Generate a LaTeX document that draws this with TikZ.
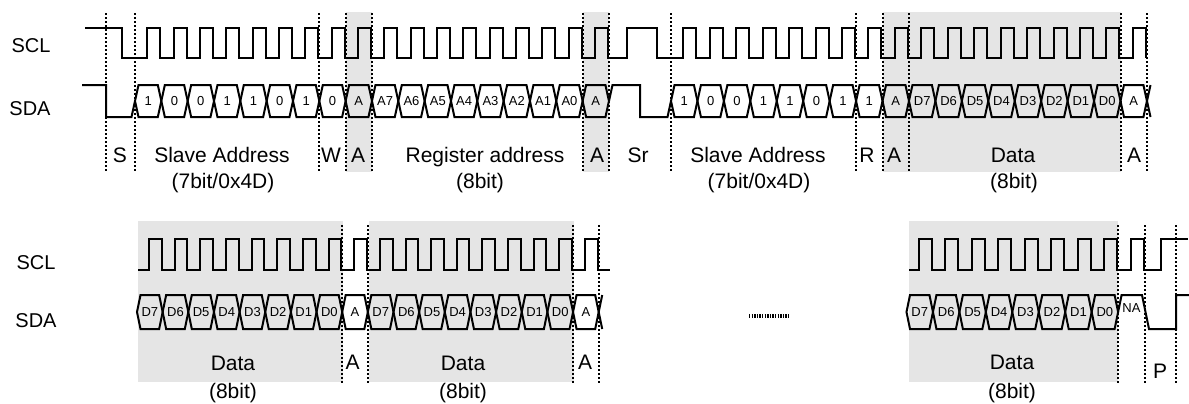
\documentclass[tikz,border=0pt]{standalone}
\usepackage{fontspec}
\setmainfont{Liberation Sans}

\begin{document}
\begin{tikzpicture}[x=0.5pt,y=-0.5pt,
    wave/.style={line width=1pt},
    guide/.style={line width=1pt,dash pattern=on 1pt off 1pt},
    slot/.style={fill=black!10},
    bitlbl/.style={font=\fontsize{6.5}{7}\selectfont,inner sep=0pt},
    sig/.style={font=\fontsize{10}{12}\selectfont,inner sep=0pt,anchor=base},
    part/.style={font=\fontsize{10.5}{12}\selectfont,inner sep=0pt,anchor=base}]

     \useasboundingbox (0, 0) rectangle (1189, 403);

     % grey ack / data slots
     \fill[slot] (345.6, 12) rectangle (372, 172);
     \fill[slot] (582.6, 12) rectangle (609, 172);
     \fill[slot] (882.5, 12) rectangle (1120.5, 172);
     \fill[slot] (138, 221) rectangle (343, 382);
     \fill[slot] (369, 221) rectangle (574, 382);
     \fill[slot] (909, 221) rectangle (1118, 382);

     \foreach \x in {106, 135, 319.3, 345.6, 372, 582.6, 609, 671, 856.1, 882.5, 909, 1120.5, 1147}
         \draw[guide] (\x, 13) -- (\x, 172);
     \foreach \x in {342.2, 367.9, 573.1, 598.7, 1118.1, 1144.5, 1176}
         \draw[guide] (\x, 225) -- (\x, 383);

     \node[sig] (scl1) at (31, 52) {SCL};
     \node[sig] (sda1) at (30, 115) {SDA};
     \node[sig] (scl2) at (36, 269) {SCL};
     \node[sig] (sda2) at (36, 327) {SDA};

     % first line: SCL
     \draw[wave] (85, 28) -- (122, 28) -- (122, 58)
         \foreach \i in {0,...,17} { -- ({135+26.33*\i+12.4}, 58) -- ({135+26.33*\i+12.4}, 28) -- ({135+26.33*\i+25.3}, 28) -- ({135+26.33*\i+25.3}, 58) }
         -- (627, 58) -- (627, 28) -- (657, 28) -- (657, 58)
         \foreach \i in {0,...,17} { -- ({671+26.44*\i+12.4}, 58) -- ({671+26.44*\i+12.4}, 28) -- ({671+26.44*\i+25.4}, 28) -- ({671+26.44*\i+25.4}, 58) };

     % first line: SDA
     \draw[wave] (82, 85) -- (106, 85) -- (106, 117) -- (131.5, 117) -- (135, 101);
     \foreach \t [count=\i from 0] in {1,0,0,1,1,0,1,0,A,A7,A6,A5,A4,A3,A2,A1,A0,A} {
         \pgfmathsetmacro\b{135+26.33*\i}
         \draw[wave] (\b, 101) -- ++(3.5, -16) -- ++(19.33, 0) -- ++(3.5, 16) -- ++(-3.5, 16) -- ++(-19.33, 0) -- cycle;
         \node[bitlbl] (w\i) at (\b+13.17, 101) {\t};
     }
     \draw[wave] (609, 101) -- (612.5, 85) -- (640, 85) -- (640, 117) -- (667.5, 117) -- (671, 101);
     \foreach \t [count=\i from 0] in {1,0,0,1,1,0,1,1,A,D7,D6,D5,D4,D3,D2,D1,D0,A} {
         \pgfmathsetmacro\b{671+26.44*\i}
         \draw[wave] (\b, 101) -- ++(3.5, -16) -- ++(19.44, 0) -- ++(3.5, 16) -- ++(-3.5, 16) -- ++(-19.44, 0) -- cycle;
         \node[bitlbl] (r\i) at (\b+13.22, 101) {\t};
     }
     \draw[wave] (1150.5, 85) -- (1147, 101) -- (1150.5, 117);

     \node[part] (start) at (120, 162.5) {S};
     \node[part] (addr1) at (222, 162.5) {Slave Address};
     \node[part] (addr1b) at (223, 188.5) {(7bit/0x4D)};
     \node[part] (wr) at (331, 162.5) {W};
     \node[part] (ack1) at (358, 162.5) {A};
     \node[part] (reg) at (485, 162.5) {Register address};
     \node[part] (regb) at (480, 188.5) {(8bit)};
     \node[part] (ack2) at (597, 162.5) {A};
     \node[part] (rstart) at (638, 162.5) {Sr};
     \node[part] (addr2) at (758, 162.5) {Slave Address};
     \node[part] (addr2b) at (759, 188.5) {(7bit/0x4D)};
     \node[part] (rd) at (867, 162.5) {R};
     \node[part] (ack3) at (894, 162.5) {A};
     \node[part] (data1) at (1013, 162.5) {Data};
     \node[part] (data1b) at (1014, 188.5) {(8bit)};
     \node[part] (ack4) at (1134, 162.5) {A};

     % second line: SCL
     \draw[wave] (138, 270)
         \foreach \i in {0,...,17} { -- ({137+25.65*\i+12}, 270) -- ({137+25.65*\i+12}, 238.5) -- ({137+25.65*\i+24.65}, 238.5) -- ({137+25.65*\i+24.65}, 270) }
         -- (610, 270);
     \draw[wave] (909, 270)
         \foreach \i in {0,...,8} { -- ({906.5+26.45*\i+12.4}, 270) -- ({906.5+26.45*\i+12.4}, 238.5) -- ({906.5+26.45*\i+25.4}, 238.5) -- ({906.5+26.45*\i+25.4}, 270) }
         -- (1161, 270) -- (1161, 238.5) -- (1188, 238.5);

     % second line: SDA
     \foreach \t [count=\i from 0] in {D7,D6,D5,D4,D3,D2,D1,D0,A,D7,D6,D5,D4,D3,D2,D1,D0,A} {
         \pgfmathsetmacro\b{137+25.65*\i}
         \draw[wave] (\b, 312) -- ++(3.5, -17) -- ++(18.65, 0) -- ++(3.5, 17) -- ++(-3.5, 17) -- ++(-18.65, 0) -- cycle;
         \node[bitlbl] (d\i) at (\b+12.83, 312) {\t};
     }
     \draw[wave] (602.2, 295) -- (598.7, 312) -- (602.2, 329);

     \draw[line width=1.6pt, dash pattern=on 0.7pt off 0.6pt] (749, 316) -- (790, 316);

     \foreach \t [count=\i from 0] in {D7,D6,D5,D4,D3,D2,D1,D0} {
         \pgfmathsetmacro\b{906.5+26.45*\i}
         \draw[wave] (\b, 312) -- ++(3.5, -17) -- ++(19.45, 0) -- ++(3.5, 17) -- ++(-3.5, 17) -- ++(-19.45, 0) -- cycle;
         \node[bitlbl] (e\i) at (\b+13.22, 312) {\t};
     }
     \draw[wave] (1118.1, 312) -- (1121.6, 295) -- (1142, 295) -- (1149, 329) -- (1176, 329) -- (1176, 295) -- (1189, 295);
     \node[bitlbl] (nack) at (1131.5, 308) {NA};

     \node[part] (data2) at (233, 370.5) {Data};
     \node[part] (data2b) at (233, 398.5) {(8bit)};
     \node[part] (ack5) at (352.5, 369.5) {A};
     \node[part] (data3) at (463, 370.5) {Data};
     \node[part] (data3b) at (463, 398.5) {(8bit)};
     \node[part] (ack6) at (585, 369.5) {A};
     \node[part] (data4) at (1012, 369.5) {Data};
     \node[part] (data4b) at (1012, 398) {(8bit)};
     \node[part] (stop) at (1160, 378.5) {P};

\end{tikzpicture}
\end{document}
